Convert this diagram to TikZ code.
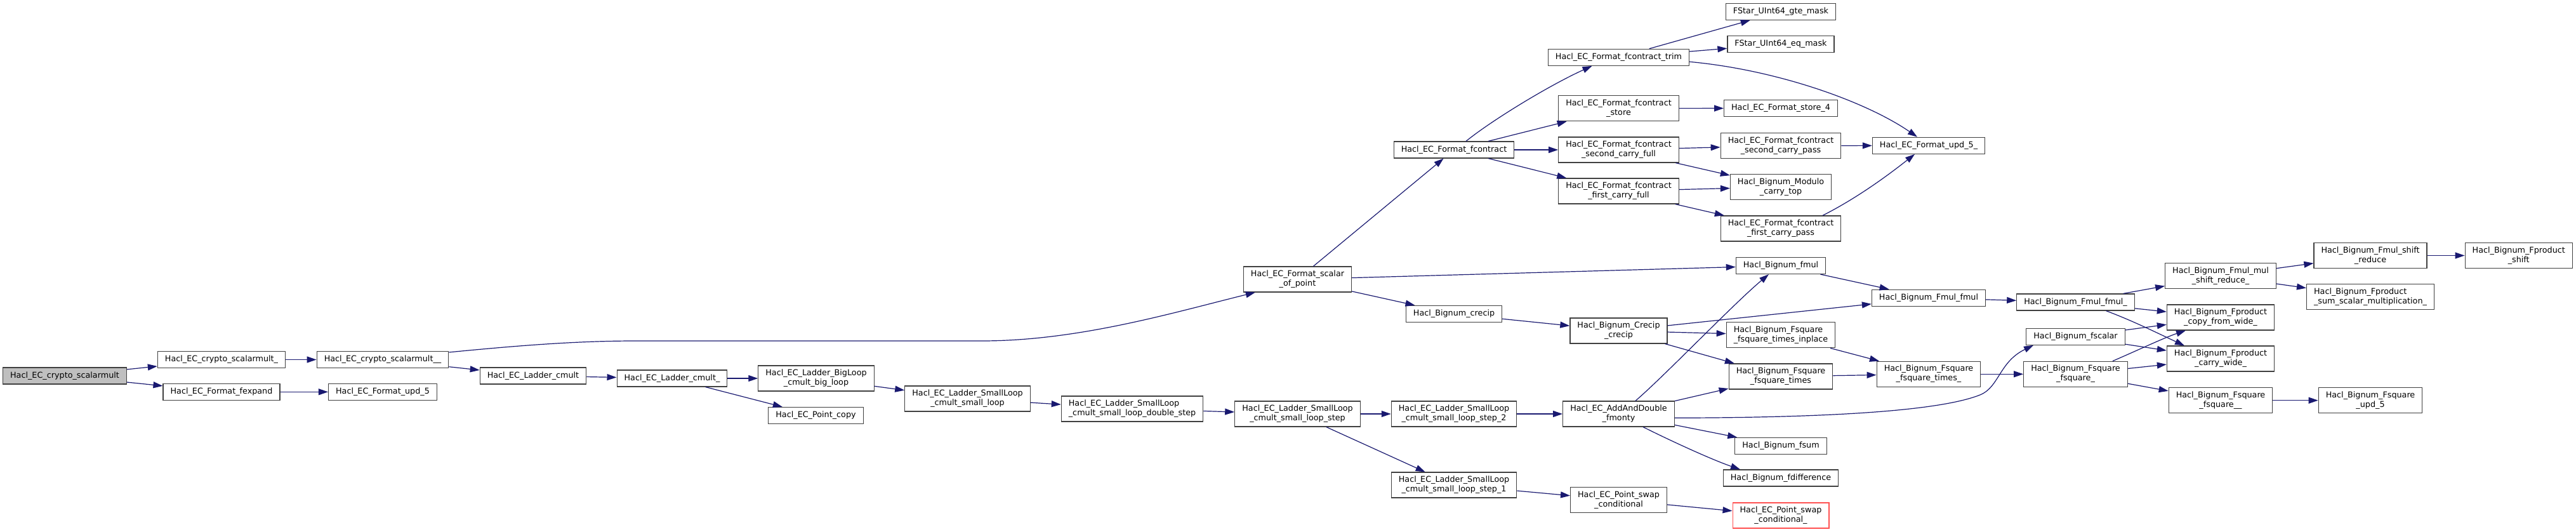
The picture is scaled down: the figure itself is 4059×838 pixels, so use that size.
\documentclass[tikz,border=0pt]{standalone}
\usepackage{fontspec}
\setmainfont{DejaVu Sans}
\usepackage{tikz}
\usetikzlibrary{arrows.meta,calc}

\definecolor{edgeblue}{HTML}{191970}
\definecolor{rootgray}{HTML}{BFBFBF}
\definecolor{truncred}{HTML}{FF5050}
% first line left, last line centred
\newcommand{\twoln}[2]{\begin{tabular}{@{}l@{}}#1\\\multicolumn{1}{@{}c@{}}{#2}\end{tabular}}

\begin{document}
\begin{tikzpicture}[x=1pt, y=-1pt,
  fn/.style={rectangle, draw=black!75, line width=1.2pt, fill=white, minimum height=26pt, inner xsep=11.5pt, inner ysep=5pt, font=\fontsize{12.76pt}{15pt}\selectfont, execute at begin node=\strut},
  edge/.style={-{Triangle[length=15pt,width=10pt]}, draw=edgeblue, line width=1.2pt},
]
\fill[white] (0,0) rectangle (4059,838);
\useasboundingbox (0,0) rectangle (4059,838);

% Root and first ranks
\node[fn, fill=rootgray] (root) at (102,592) {Hacl\_EC\_crypto\_scalarmult};
\node[fn] (csm1) at (349,566.5) {Hacl\_EC\_crypto\_scalarmult\_};
\node[fn] (fexpand) at (349,617.3) {Hacl\_EC\_Format\_fexpand};
\node[fn] (csm2) at (603,566.5) {Hacl\_EC\_crypto\_scalarmult\_\_};
\node[fn] (upd5a) at (603,617.3) {Hacl\_EC\_Format\_upd\_5};

% Ladder chain
\node[fn] (lcmult) at (840,592) {Hacl\_EC\_Ladder\_cmult};
\node[fn] (lcmultb) at (1059,596) {Hacl\_EC\_Ladder\_cmult\_};
\node[fn] (bigloop) at (1286,596) {\twoln{Hacl\_EC\_Ladder\_BigLoop}{\_cmult\_big\_loop}};
\node[fn] (pcopy) at (1285.5,654.5) {Hacl\_EC\_Point\_copy};
\node[fn] (smallloop) at (1524.5,628) {\twoln{Hacl\_EC\_Ladder\_SmallLoop}{\_cmult\_small\_loop}};
\node[fn] (dstep) at (1784,644) {\twoln{Hacl\_EC\_Ladder\_SmallLoop}{\_cmult\_small\_loop\_double\_step}};
\node[fn] (lstep) at (2044.5,652) {\twoln{Hacl\_EC\_Ladder\_SmallLoop}{\_cmult\_small\_loop\_step}};
\node[fn] (sop) at (2044.5,440) {\twoln{Hacl\_EC\_Format\_scalar}{\_of\_point}};

% Column 9
\node[fn] (fcontract) at (2291,236) {Hacl\_EC\_Format\_fcontract};
\node[fn] (bcrecip) at (2291,494.5) {Hacl\_Bignum\_crecip};
\node[fn] (step2) at (2291,652) {\twoln{Hacl\_EC\_Ladder\_SmallLoop}{\_cmult\_small\_loop\_step\_2}};
\node[fn] (step1) at (2291,764) {\twoln{Hacl\_EC\_Ladder\_SmallLoop}{\_cmult\_small\_loop\_step\_1}};

% Column 10
\node[fn] (ftrim) at (2550.5,90.3) {Hacl\_EC\_Format\_fcontract\_trim};
\node[fn] (fstore) at (2550.5,170.7) {\twoln{Hacl\_EC\_Format\_fcontract}{\_store}};
\node[fn] (fsecond) at (2550.5,236) {\twoln{Hacl\_EC\_Format\_fcontract}{\_second\_carry\_full}};
\node[fn] (ffirst) at (2550.5,301) {\twoln{Hacl\_EC\_Format\_fcontract}{\_first\_carry\_full}};
\node[fn] (ccrecip) at (2550.5,521) {\twoln{Hacl\_Bignum\_Crecip}{\_crecip}};
\node[fn] (fmonty) at (2550.5,652) {\twoln{Hacl\_EC\_AddAndDouble}{\_fmonty}};
\node[fn] (swapc) at (2550.5,787.7) {\twoln{Hacl\_EC\_Point\_swap}{\_conditional}};

% Column 11
\node[fn] (gte) at (2806,18.3) {FStar\_UInt64\_gte\_mask};
\node[fn] (eqm) at (2806,69.3) {FStar\_UInt64\_eq\_mask};
\node[fn] (store4) at (2806,170.5) {Hacl\_EC\_Format\_store\_4};
\node[fn] (secpass) at (2806,229.5) {\twoln{Hacl\_EC\_Format\_fcontract}{\_second\_carry\_pass}};
\node[fn] (carrytop) at (2806,294.5) {\twoln{Hacl\_Bignum\_Modulo}{\_carry\_top}};
\node[fn] (firpass) at (2806,360) {\twoln{Hacl\_EC\_Format\_fcontract}{\_first\_carry\_pass}};
\node[fn] (bfmul) at (2806,418.5) {Hacl\_Bignum\_fmul};
\node[fn] (inplace) at (2806,527.8) {\twoln{Hacl\_Bignum\_Fsquare}{\_fsquare\_times\_inplace}};
\node[fn] (sqtimes) at (2806,593) {\twoln{Hacl\_Bignum\_Fsquare}{\_fsquare\_times}};
\node[fn] (fsum) at (2806,702.5) {Hacl\_Bignum\_fsum};
\node[fn] (fdiff) at (2806,753) {Hacl\_Bignum\_fdifference};
\node[fn, draw=truncred] (swapcb) at (2806,812) {\twoln{Hacl\_EC\_Point\_swap}{\_conditional\_}};

% Columns 12-16
\node[fn] (upd5b) at (3039,229.3) {Hacl\_EC\_Format\_upd\_5\_};
\node[fn] (fmulfmul) at (3039,469.3) {Hacl\_Bignum\_Fmul\_fmul};
\node[fn] (sqtimesb) at (3039,589.3) {\twoln{Hacl\_Bignum\_Fsquare}{\_fsquare\_times\_}};
\node[fn] (fmulfmulb) at (3270.5,476) {Hacl\_Bignum\_Fmul\_fmul\_};
\node[fn] (fscalar) at (3270.5,530.3) {Hacl\_Bignum\_fscalar};
\node[fn] (fsquareb) at (3270.5,589.3) {\twoln{Hacl\_Bignum\_Fsquare}{\_fsquare\_}};
\node[fn] (msr) at (3499,434.7) {\twoln{Hacl\_Bignum\_Fmul\_mul}{\_shift\_reduce\_}};
\node[fn] (cfw) at (3499,500) {\twoln{Hacl\_Bignum\_Fproduct}{\_copy\_from\_wide\_}};
\node[fn] (cw) at (3499,565) {\twoln{Hacl\_Bignum\_Fproduct}{\_carry\_wide\_}};
\node[fn] (fsquarec) at (3499,630.7) {\twoln{Hacl\_Bignum\_Fsquare}{\_fsquare\_\_}};
\node[fn] (fsr) at (3735,402.5) {\twoln{Hacl\_Bignum\_Fmul\_shift}{\_reduce}};
\node[fn] (ssm) at (3735,467.8) {\twoln{Hacl\_Bignum\_Fproduct}{\_sum\_scalar\_multiplication\_}};
\node[fn] (squpd) at (3735,630.7) {\twoln{Hacl\_Bignum\_Fsquare}{\_upd\_5}};
\node[fn] (pshift) at (3968.7,402.5) {\twoln{Hacl\_Bignum\_Fproduct}{\_shift}};

% Straight calls
\draw[edge] (root) -- (csm1);
\draw[edge] (root) -- (fexpand);
\draw[edge] (csm1) -- (csm2);
\draw[edge] (fexpand) -- (upd5a);
\draw[edge] (csm2) -- (lcmult);
\draw[edge] (lcmult) -- (lcmultb);
\draw[edge] (lcmultb) -- (bigloop);
\draw[edge] (lcmultb) -- (pcopy);
\draw[edge] (bigloop) -- (smallloop);
\draw[edge] (smallloop) -- (dstep);
\draw[edge] (dstep) -- (lstep);
\draw[edge] (lstep) -- (step2);
\draw[edge] (lstep) -- (step1);
\draw[edge] (sop) -- (fcontract);
\draw[edge] (sop) -- (bfmul);
\draw[edge] (sop) -- (bcrecip);
\draw[edge] (fcontract) -- (fstore);
\draw[edge] (fcontract) -- (fsecond);
\draw[edge] (fcontract) -- (ffirst);
\draw[edge] (ftrim) -- (gte);
\draw[edge] (ftrim) -- (eqm);
\draw[edge] (fstore) -- (store4);
\draw[edge] (fsecond) -- (secpass);
\draw[edge] (fsecond) -- (carrytop);
\draw[edge] (ffirst) -- (carrytop);
\draw[edge] (ffirst) -- (firpass);
\draw[edge] (secpass) -- (upd5b);
\draw[edge] (bcrecip) -- (ccrecip);
\draw[edge] (ccrecip) -- (fmulfmul);
\draw[edge] (ccrecip) -- (inplace);
\draw[edge] (ccrecip) -- (sqtimes);
\draw[edge] (step2) -- (fmonty);
\draw[edge] (step1) -- (swapc);
\draw[edge] (swapc) -- (swapcb);
\draw[edge] (fmonty) -- (sqtimes);
\draw[edge] (fmonty) -- (fsum);
\draw[edge] (bfmul) -- (fmulfmul);
\draw[edge] (fmulfmul) -- (fmulfmulb);
\draw[edge] (inplace) -- (sqtimesb);
\draw[edge] (sqtimes) -- (sqtimesb);
\draw[edge] (sqtimesb) -- (fsquareb);
\draw[edge] (fmulfmulb) -- (msr);
\draw[edge] (fmulfmulb) -- (cfw);
\draw[edge] (fscalar) -- (cfw);
\draw[edge] (fscalar) -- (cw);
\draw[edge] (fsquareb) -- (cw);
\draw[edge] (fsquareb) -- (fsquarec);
\draw[edge] (msr) -- (fsr);
\draw[edge] (msr) -- (ssm);
\draw[edge] (fsr) -- (pshift);
\draw[edge] (fsquarec) -- (squpd);

% Curved calls
\draw[edge] ([yshift=-2pt]csm2.north east) .. controls (800,546) and (900,537) .. (1000,537) -- (1547,537) .. controls (1700,537) and (1850,492) .. ([xshift=19pt]sop.south west);
\draw[edge] ([xshift=19pt]fcontract.north) .. controls (2350,190) and (2440,135) .. ([xshift=-42pt]ftrim.south);
\draw[edge] ([yshift=-7pt]ftrim.east) .. controls (2800,110) and (2940,160) .. ([xshift=-18pt]upd5b.north);
\draw[edge] ([xshift=66pt]firpass.north) .. controls (2930,310) and (2980,272) .. ([xshift=-22pt]upd5b.south);
\draw[edge] ([xshift=26.5pt]fmonty.north) .. controls (2625,590) and (2730,480) .. ([xshift=-19pt]bfmul.south);
\draw[edge] ([xshift=38.5pt]fmonty.south) .. controls (2640,698) and (2700,725) .. ([xshift=-64pt]fdiff.north);
\draw[edge] ([yshift=-6.3pt]fmonty.east) .. controls (2850,658) and (3050,650) .. (3120,622) .. controls (3150,610) and (3150,570) .. ([xshift=-66.5pt]fscalar.south);
\draw[edge] ([xshift=48pt]fmulfmulb.south) .. controls (3360,505) and (3400,525) .. ([xshift=-57pt]cw.north);
\draw[edge] ([xshift=58.4pt]fsquareb.north) .. controls (3370,551) and (3410,532) .. ([xshift=-55pt]cfw.south);
\end{tikzpicture}
\end{document}
